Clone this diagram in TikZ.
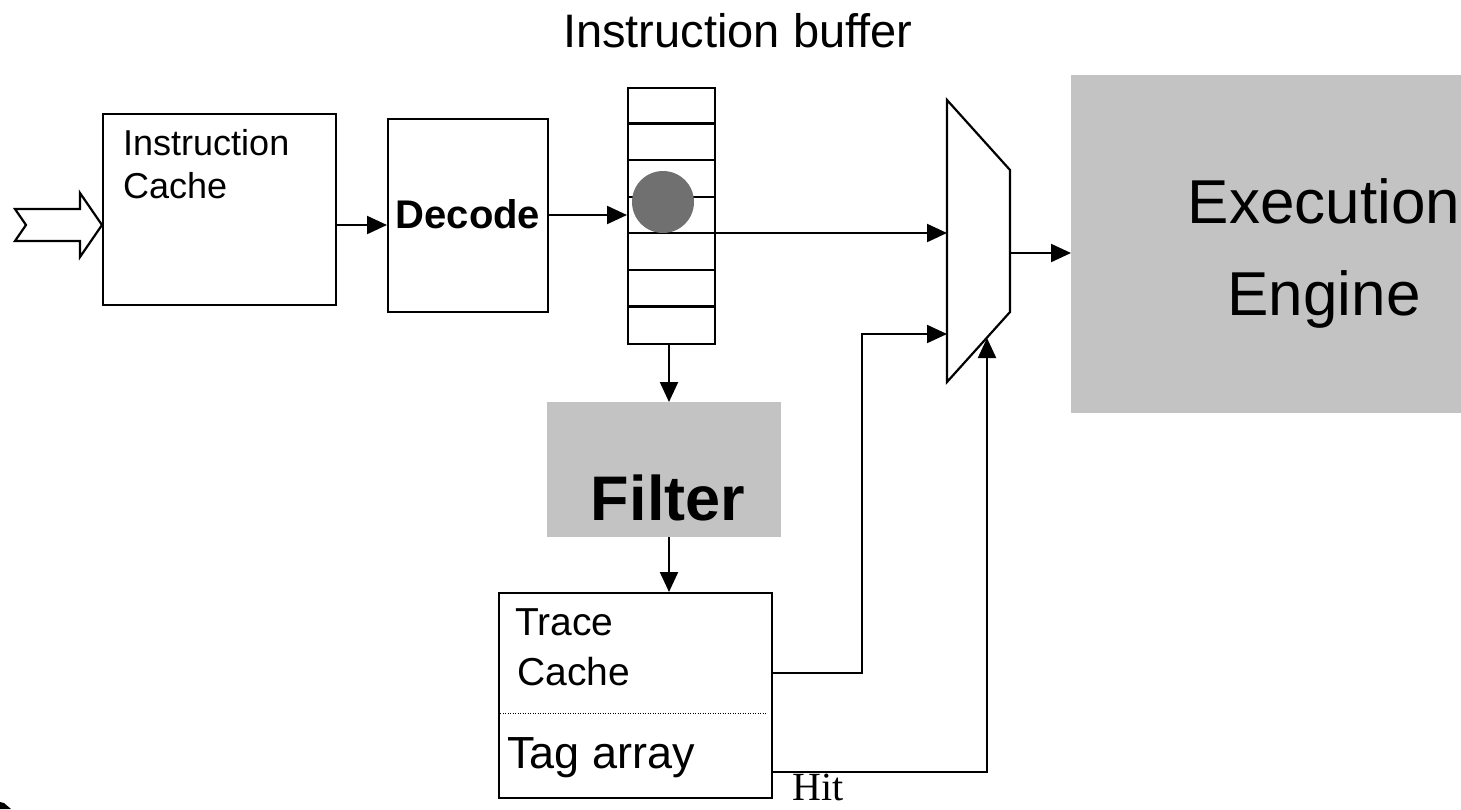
\documentclass[tikz,border=0pt]{standalone}
\usepackage{fontspec}
\setmainfont{Liberation Sans}
\newfontfamily\hitfont{Liberation Serif}
\usetikzlibrary{arrows.meta}
\definecolor{panelgray}{RGB}{195,195,195}
\definecolor{slotgray}{RGB}{112,112,112}

\begin{document}
\begin{tikzpicture}[x=1pt,y=-1pt,
  box/.style={draw=black,line width=2.2pt,inner sep=0pt,anchor=north west},
  panel/.style={fill=panelgray,draw=none,inner sep=0pt,anchor=north west},
  wire/.style={line width=2.2pt},
  flow/.style={line width=2.2pt,-{Triangle[length=20pt,width=18pt]}},
  txt/.style={inner sep=0pt,anchor=base west},
  fs/.style={font=\fontsize{#1pt}{#1pt}\selectfont}]

\useasboundingbox (0,0) rectangle (1461,809);

% hollow input arrow
\draw[line width=2.2pt,line join=miter]
  (15,209) -- (80,209) -- (80,193) -- (102,225) -- (80,257) -- (80,241)
  -- (15,241) -- (26,225) -- cycle;

% main blocks
\node[box,minimum width=233pt,minimum height=191pt] (icache) at (102,113) {};
\node[box,minimum width=160pt,minimum height=193pt] (decode) at (387,118) {};
\node[box,minimum width=87pt,minimum height=256pt]  (buf)    at (627,87) {};
\node[panel,minimum width=234pt,minimum height=135pt] (filter) at (547,402) {};
\node[box,minimum width=273pt,minimum height=205pt] (trace)  at (498,592) {};
\node[panel,minimum width=390pt,minimum height=338pt] (exec) at (1071,75) {};

% buffer slots
\foreach \k in {1,...,6}
  \draw[wire] (627,87+\k*256/7) -- (714,87+\k*256/7);
\node[circle,fill=slotgray,minimum size=62pt,inner sep=0pt] (slot) at (663,202) {};

% multiplexer
\coordinate (muxA) at (947,100);
\coordinate (muxB) at (1010,170);
\coordinate (muxC) at (1010,312);
\coordinate (muxD) at (947,382);
\draw[line width=2.2pt,line join=miter] (muxA) -- (muxB) -- (muxC) -- (muxD) -- cycle;

% tag array separator
\draw[line width=1pt,dash pattern=on 1pt off 1.5pt] (500,713) -- (767,713);

% connectors
\draw[flow] (icache.east |- 0,225) -- (decode.west |- 0,225);
\draw[flow] (decode.east |- 0,215) -- (buf.west |- 0,215);
\draw[flow] (buf.east |- 0,233) -- (muxA |- 0,233);
\draw[flow] (buf.south -| 669,0) -- (filter.north -| 669,0);
\draw[flow] (filter.south -| 669,0) -- (trace.north -| 669,0);
\draw[flow] (trace.east |- 0,673) -- (862,673) -- (862,334) -- (muxA |- 0,334);
\draw[flow] (trace.east |- 0,772) -- (987,772) -- (987,338);
\draw[flow] (muxB |- 0,253) -- (exec.west |- 0,253);

% labels
\node[txt,fs=47] (tbuf) at (563,47) {Instruction buffer};
\node[txt,fs=36] (tic1) at (123,155) {Instruction};
\node[txt,fs=36] (tic2) at (123,198) {Cache};
\node[inner sep=0pt,anchor=base,fs=40] (tdec) at (468,228) {\bfseries Decode};
\node[inner sep=0pt,anchor=base,fs=63] (tfil) at (668,520) {\bfseries Filter};
\node[txt,fs=39] (ttr1) at (515,635) {Trace};
\node[txt,fs=39] (ttr2) at (517,685) {Cache};
\node[txt,fs=45] (ttag) at (507,768) {Tag array};
\node[txt,font=\hitfont\fontsize{40pt}{40pt}\selectfont] (thit) at (792,800.5) {Hit};
\node[inner sep=0pt,anchor=base,fs=62] (tex1) at (1324,223) {Execution};
\node[inner sep=0pt,anchor=base,fs=62] (tex2) at (1324,315) {Engine};

% fragment at the lower left corner
\fill (0,802) -- (4,803) -- (11,809) -- (0,809) -- cycle;
\end{tikzpicture}
\end{document}
